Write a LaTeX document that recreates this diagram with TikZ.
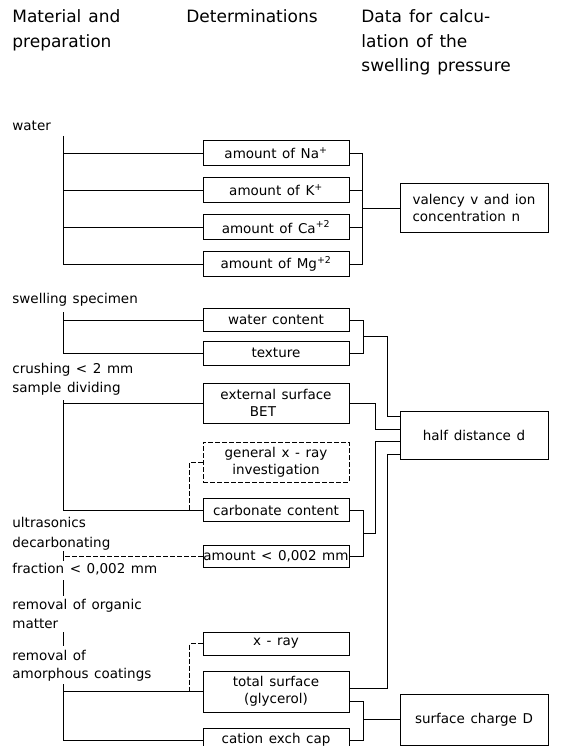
\documentclass[tikz,border=0pt]{standalone}
\usepackage{fontspec}
\setmainfont{DejaVu Sans}[WordSpace=1.3]
\usetikzlibrary{calc}

\begin{document}
\begin{tikzpicture}[x=1pt,y=-1pt,line width=0.8pt,
    txt/.style={font=\fontsize{13.5}{17}\selectfont},
    detbox/.style={txt,draw,minimum width=146pt,inner sep=0pt,align=center},
    databox/.style={txt,draw,minimum width=148pt,inner sep=0pt,align=left},
    lbl/.style={txt,anchor=base west,inner sep=0pt},
    head/.style={anchor=base west,inner sep=0pt,align=left,font=\fontsize{17}{24.5}\selectfont},
    dashline/.style={dash pattern=on 5pt off 2pt}]
    % Page frame
    \clip (0,0) rectangle (578,746);

    % Column headings (base = last line)
    \node[head] (hmat) at (12,47.5) {Material and\\preparation};
    \node[head] (hdet) at (186,23) {Determinations};
    \node[head] (hdat) at (361,72) {Data for calcu-\\lation of the\\swelling pressure};

    % Water: ion contents
    \node[lbl] (water) at (12,131) {water};
    \node[detbox,minimum height=25pt] (na) at (276,153) {amount of Na\textsuperscript{+}};
    \node[detbox,minimum height=25pt] (k)  at (276,190) {amount of K\textsuperscript{+}};
    \node[detbox,minimum height=25pt] (ca) at (276,227) {amount of Ca\textsuperscript{+2}};
    \node[detbox,minimum height=25pt] (mg) at (276,264) {amount of Mg\textsuperscript{+2}};
    \node[databox,minimum height=49pt] (val) at (474,208) {valency v and ion\\concentration n};

    \coordinate (wsp) at (63,136);
    \coordinate (wbus) at (362,0);
    \draw (wsp) |- (mg.west);
    \foreach \b in {na,k,ca}
      \draw (\b.west) -- (\b.west -| wsp);
    \draw (na.east) -| (wbus |- mg.east) -- (mg.east);
    \foreach \b in {k,ca}
      \draw (\b.east) -- (\b.east -| wbus);
    \draw (val.west) -- (val.west -| wbus);

    % Swelling specimen
    \node[lbl] (swell) at (12,303) {swelling specimen};
    \node[lbl] (crush) at (12,373) {crushing < 2 mm};
    \node[lbl] (divide) at (12,392) {sample dividing};
    \node[detbox,minimum height=23pt] (wc) at (276,320) {water content};
    \node[detbox,minimum height=24pt] (tex) at (276,353) {texture};
    \node[detbox,minimum height=40pt] (ext) at (276,403) {external surface\\BET\hspace*{26pt}};
    \node[detbox,dashline,minimum height=40pt] (gen) at (276,462) {general x - ray\\investigation};
    \node[detbox,minimum height=23pt] (carb) at (276,510) {carbonate content};
    \node[detbox,minimum height=22pt] (amt) at (276,556) {amount < 0,002 mm};
    \node[databox,minimum height=48pt] (half) at (474,435) {half distance d};

    \coordinate (ssp) at (63,312);
    \draw (ssp) |- (tex.west);
    \draw (wc.west) -- (wc.west -| ssp);
    \coordinate (dsp) at (63,400);
    \draw (dsp) |- (carb.west);
    \draw (ext.west) -- (ext.west -| dsp);
    \draw[dashline] (gen.west) -- ++(-13,0) coordinate (gd) -- (gd |- carb.west);
    \coordinate (fsp) at (63,556);
    \draw[dashline] (amt.west) -- (fsp);
    \draw (fsp) ++(0,-5) -- ++(0,10);

    % Inputs of half distance d
    \coordinate (h1) at ([yshift=19pt]half.west);
    \coordinate (h2) at ([yshift=6pt]half.west);
    \coordinate (h3) at ([yshift=-6pt]half.west);
    \coordinate (h4) at ([yshift=-19pt]half.west);
    \coordinate (hx1) at (387,0);
    \coordinate (hx2) at (375,0);
    \coordinate (sbus) at (363,0);
    \draw (wc.east) -| (sbus |- tex.east) -- (tex.east);
    \draw ($(wc.east -| sbus)!0.5!(tex.east -| sbus)$) -| (hx1 |- h1) -- (h1);
    \draw (ext.east) -| (hx2 |- h2) -- (h2);
    \draw (carb.east) -| (sbus |- amt.east) -- (amt.east);
    \draw ($(carb.east -| sbus)!0.5!(amt.east -| sbus)$) -| (hx2 |- h3) -- (h3);

    % Fine fraction
    \node[lbl] (ultra) at (12,527) {ultrasonics};
    \node[lbl] (decarb) at (12,547) {decarbonating};
    \node[lbl] (frac) at (12,573) {fraction < 0,002 mm};
    \node[lbl] (organic) at (12,609) {removal of organic};
    \node[lbl] (matter) at (12,628) {matter};
    \node[lbl] (remove) at (12,660) {removal of};
    \node[lbl] (coat) at (12,678) {amorphous coatings};
    \draw ($(frac.base -| fsp)+(0,7)$) -- ($(organic.base -| fsp)+(0,-13)$);
    \draw ($(matter.base -| fsp)+(0,4)$) -- ($(remove.base -| fsp)+(0,-14)$);

    \node[detbox,minimum height=23pt] (xray) at (276,643.5) {x - ray};
    \node[detbox,minimum height=41pt] (tot) at (276,691.5) {total surface\\(glycerol)};
    \node[detbox,minimum height=24pt] (cat) at (276,740) {cation exch cap};
    \node[databox,minimum height=51pt] (sc) at (474,719.5) {surface charge D};

    \coordinate (lsp) at (63,684);
    \draw (lsp) |- (cat.west);
    \draw (tot.west) -- (tot.west -| lsp);
    \draw[dashline] (xray.west) -- ++(-13,0) coordinate (xd) -- (xd |- tot.west);
    \coordinate (t1) at ([yshift=3.5pt]tot.east);
    \coordinate (t2) at ([yshift=-9.5pt]tot.east);
    \draw (t1) -| (hx1 |- h4) -- (h4);
    \draw (t2) -| (sbus |- cat.east) -- (cat.east);
    \draw (sc.west) -- (sc.west -| sbus);
\end{tikzpicture}
\end{document}
